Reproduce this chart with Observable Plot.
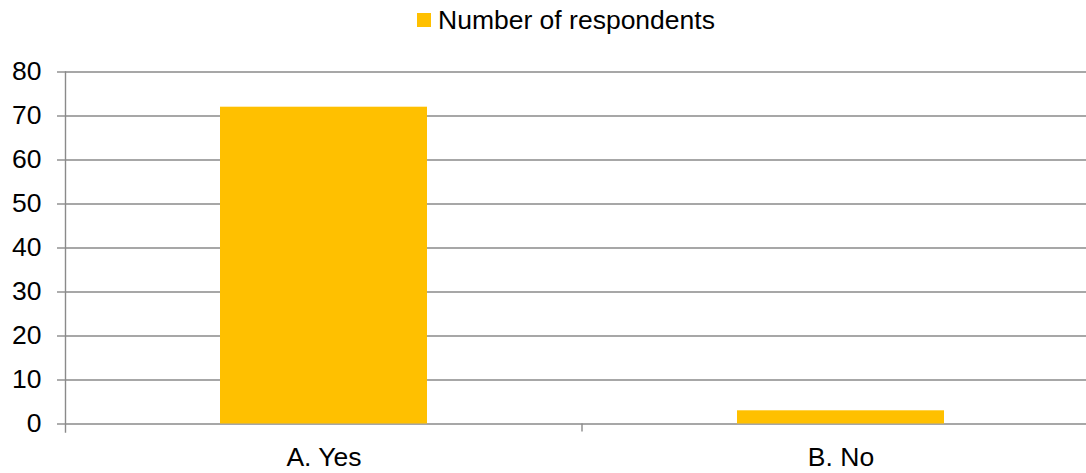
<!DOCTYPE html>
<html>
<head>
<meta charset="utf-8">
<script src="https://cdn.jsdelivr.net/npm/d3@7"></script>
<script src="https://cdn.jsdelivr.net/npm/@observablehq/plot@0.6"></script>
<style>
  html, body { margin: 0; padding: 0; background: #fff; }
  #wrap { width: 1086px; height: 473px; position: relative; overflow: hidden; font-family: "Liberation Sans", Arial, sans-serif; }
  #legend { position: relative; height: 40px; }
  #legend .sw { position: absolute; left: 417px; top: 13px; width: 14px; height: 14px; background: #FFC000; }
  #legend .lb { position: absolute; left: 438px; top: 5px; font-size: 26.5px; line-height: 30px; color: #000; white-space: nowrap; }
  svg { overflow: hidden; display: block; }
</style>
</head>
<body>
<div id="wrap">
  <div id="legend"><span class="sw"></span><span class="lb"></span></div>
  <div id="chart"></div>
</div>
<script>
const seriesName = "Number of respondents";
const categories = ["A. Yes", "B. No"];
const respondents = [72, 3];
const yTicks = [0, 10, 20, 30, 40, 50, 60, 70, 80];

const barColor = "#FFC000";
const gridColor = "#8a8a8a";

document.querySelector("#legend .lb").textContent = seriesName;

const data = categories.map((c, i) => ({category: c, value: respondents[i]}));

const chart = Plot.plot({
  width: 1086,
  height: 433,
  marginTop: 31.5,
  marginBottom: 49.5,
  marginLeft: 65,
  marginRight: 0,
  style: {fontFamily: "'Liberation Sans', Arial, sans-serif", fontSize: "26.5px", color: "#000", background: "#fff"},
  x: {domain: categories, range: [65, 1099], paddingInner: 0.6, paddingOuter: 0.3, label: null},
  y: {domain: [0, 80], label: null},
  marks: [
    Plot.ruleY(yTicks, {stroke: gridColor, strokeWidth: 1.4}),
    Plot.barY(data, {x: "category", y: "value", fill: barColor}),
    Plot.frame({anchor: "left", stroke: gridColor, strokeWidth: 1.4, insetBottom: -8}),
    Plot.axisY({ticks: yTicks, tickSize: 8, tickPadding: 16, stroke: gridColor, strokeWidth: 1.4, fill: "#000", fontSize: 26.5, label: null}),
    Plot.axisX({tickSize: 0, tickPadding: 23, fill: "#000", fontSize: 26.5, label: null}),
    // category boundary ticks, derived from the band scale
    (index, scales, values, dims) => {
      const x = scales.x;
      const bw = x.bandwidth ? x.bandwidth() : 0;
      const g = d3.create("svg:g");
      for (let i = 1; i < categories.length; i++) {
        const bx = ((x(categories[i - 1]) + bw) + x(categories[i])) / 2;
        const y0 = scales.y(0);
        g.append("line")
          .attr("x1", bx).attr("x2", bx)
          .attr("y1", y0).attr("y2", y0 + 8)
          .attr("stroke", gridColor).attr("stroke-width", 1.4);
      }
      return g.node();
    }
  ]
});
document.getElementById("chart").appendChild(chart);
</script>
</body>
</html>
